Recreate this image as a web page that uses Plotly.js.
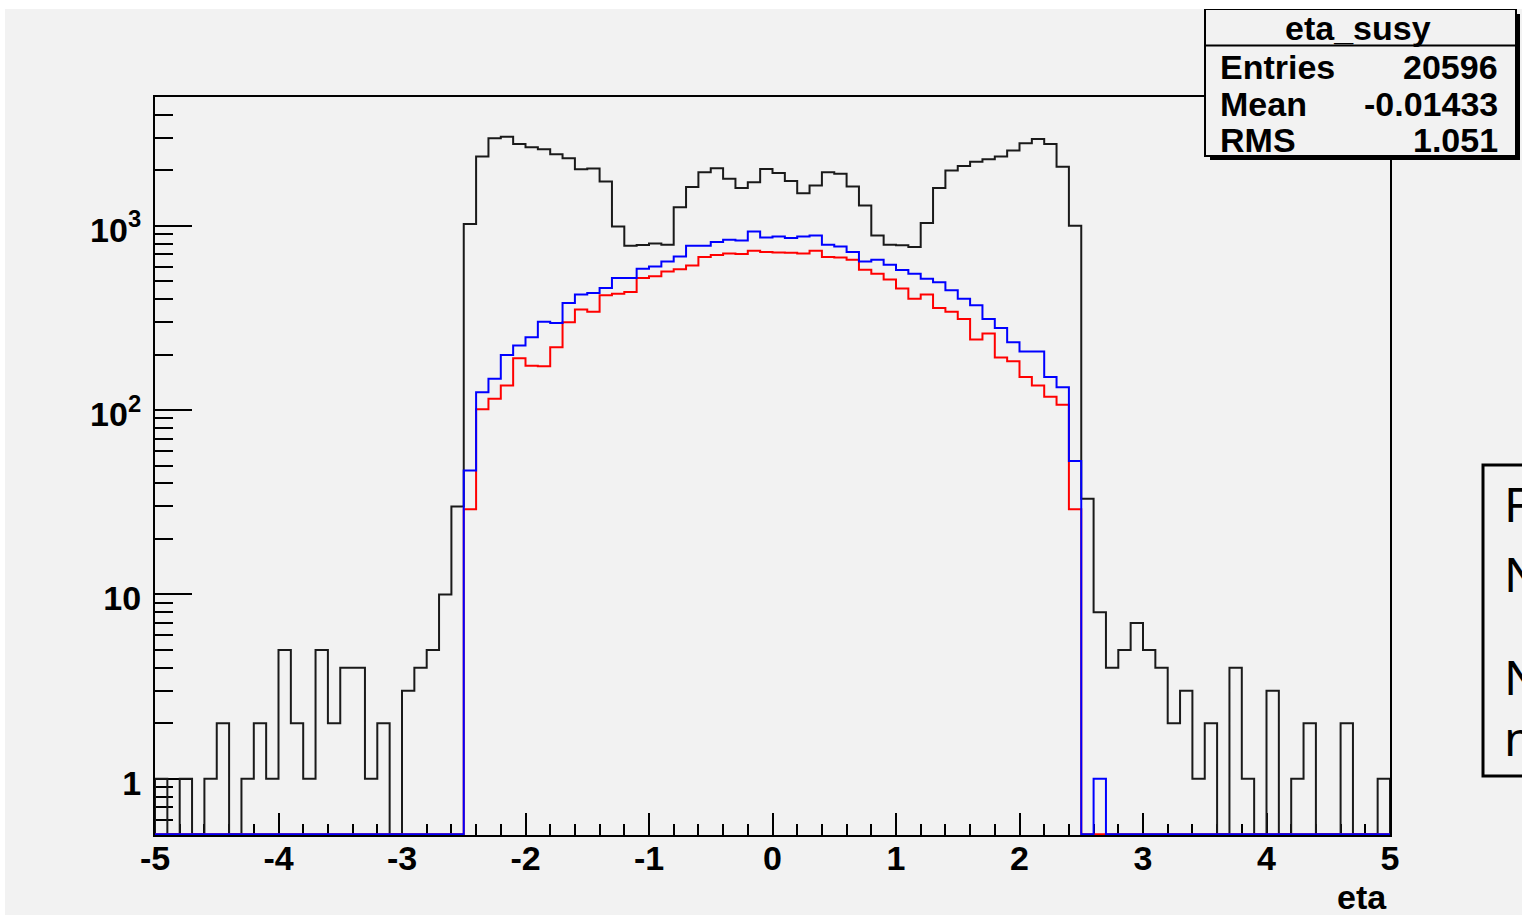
<!DOCTYPE html>
<html>
<head>
<meta charset="utf-8">
<script src="https://cdn.plot.ly/plotly-3.0.1.min.js"></script>
<style>
html,body{margin:0;padding:0;background:#ffffff;overflow:hidden;width:1522px;height:919px}
#chart{position:absolute;left:5px;top:9px;width:1517px;height:906px}
</style>
</head>
<body>
<div id="chart"></div>
<script>
// ---- histogram binning ----
const xMin = -5, xMax = 5, nBins = 100;

// ---- bin contents ----
const etaAll = [
  1, 0, 1, 0, 1, 2, 0, 1, 2, 1,
  5, 2, 1, 5, 2, 4, 4, 1, 2, 0,
  3, 4, 5, 10, 30, 1020, 2370, 2980, 3040, 2775,
  2660, 2600, 2440, 2320, 2025, 2040, 1735, 990, 778, 785,
  800, 788, 1260, 1620, 1950, 2050, 1795, 1600, 1720, 2030,
  1930, 1750, 1500, 1650, 1950, 1910, 1630, 1285, 885, 788,
  782, 766, 1033, 1600, 1990, 2110, 2225, 2290, 2370, 2555,
  2800, 2955, 2775, 2090, 1000, 33, 8, 4, 5, 7,
  5, 4, 2, 3, 1, 2, 0, 4, 1, 0,
  3, 0, 1, 2, 0, 0, 2, 0, 0, 1
];
const etaBlue = [
  0, 0, 0, 0, 0, 0, 0, 0, 0, 0,
  0, 0, 0, 0, 0, 0, 0, 0, 0, 0,
  0, 0, 0, 0, 0, 47, 125, 148, 199, 224,
  248, 301, 297, 381, 423, 432, 459, 520, 520, 584,
  601, 640, 680, 778, 778, 815, 839, 832, 931, 863,
  874, 857, 874, 885, 788, 772, 720, 640, 654, 614,
  575, 549, 515, 493, 446, 401, 370, 312, 279, 233,
  208, 208, 151, 133, 53, 0, 1, 0, 0, 0,
  0, 0, 0, 0, 0, 0, 0, 0, 0, 0,
  0, 0, 0, 0, 0, 0, 0, 0, 0, 0
];
const etaRed = [
  0, 0, 0, 0, 0, 0, 0, 0, 0, 0,
  0, 0, 0, 0, 0, 0, 0, 0, 0, 0,
  0, 0, 0, 0, 0, 29, 101, 115, 136, 191,
  174, 173, 219, 299, 351, 341, 419, 428, 437, 520,
  531, 565, 580, 609, 676, 693, 707, 702, 731, 720,
  716, 713, 707, 731, 676, 673, 654, 577, 549, 510,
  457, 402, 423, 358, 341, 312, 241, 260, 193, 184,
  151, 136, 118, 107, 29, 0, 0, 0, 0, 0,
  0, 0, 0, 0, 0, 0, 0, 0, 0, 0,
  0, 0, 0, 0, 0, 0, 0, 0, 0, 0
];

// ---- tick labels / text ----
const xTickVals = [-5, -4, -3, -2, -1, 0, 1, 2, 3, 4, 5];
const xTickText = ['-5', '-4', '-3', '-2', '-1', '0', '1', '2', '3', '4', '5'];
const yTickVals = [1, 10, 100, 1000];
const yTickText = ['1', '10', '10<sup>2</sup>', '10<sup>3</sup>'];
const yMinorVals = [0.6, 0.7, 0.8, 0.9, 2, 3, 4, 5, 6, 7, 8, 9,
  20, 30, 40, 50, 60, 70, 80, 90, 200, 300, 400, 500, 600, 700, 800, 900,
  2000, 3000, 4000];
const statsTitle = 'eta_susy';
const statLabels = ['Entries', 'Mean', 'RMS'];
const statValues = ['20596', '-0.01433', '1.051'];
const xTitle = 'eta';
const sideLetters = ['F', 'N', 'N', 'n'];

// ---- drawing ----
const yFloor = 0.5;
const yLogRange = [Math.log10(yFloor) - 0.004, 3.698];
const bw = (xMax - xMin) / nBins;
const show = v => (v > 0 ? v : yFloor);

function stepTrace(counts, color, width) {
  const xs = [xMin], ys = [yFloor];
  for (let i = 0; i < counts.length; i++) {
    xs.push(xMin + i * bw);
    ys.push(show(counts[i]));
  }
  xs.push(xMax); ys.push(show(counts[counts.length - 1]));
  xs.push(xMax); ys.push(yFloor);
  return {type: 'scatter', mode: 'lines', x: xs, y: ys,
    line: {shape: 'hv', color: color, width: width},
    hoverinfo: 'skip', showlegend: false};
}

// pixel helpers (page pixels -> paper coords); plot area 155..1390 x 97..835
const PX0 = 155, PX1 = 1390, PY0 = 97, PY1 = 835;
const px = a => (a - PX0) / (PX1 - PX0);
const py = a => (PY1 - a) / (PY1 - PY0);

const boldFont = {family: 'Liberation Sans, Arial, Helvetica, sans-serif', size: 34, color: '#000', weight: 'bold'};

const shapes = [
  // stats box shadow
  {type: 'rect', xref: 'paper', yref: 'paper', layer: 'above',
   x0: px(1210), x1: px(1520), y0: py(160), y1: py(14),
   fillcolor: '#000', line: {width: 0}},
  // stats box
  {type: 'rect', xref: 'paper', yref: 'paper', layer: 'above',
   x0: px(1205), x1: px(1516), y0: py(156), y1: py(9),
   fillcolor: '#f2f2f2', line: {color: '#000', width: 2}},
  {type: 'line', xref: 'paper', yref: 'paper', layer: 'above',
   x0: px(1205), x1: px(1516), y0: py(45.5), y1: py(45.5),
   line: {color: '#000', width: 2}},
  // partial text box at right edge
  {type: 'rect', xref: 'paper', yref: 'paper', layer: 'above',
   x0: px(1483), x1: px(1600), y0: py(776), y1: py(465),
   fillcolor: 'rgba(0,0,0,0)', line: {color: '#000', width: 3}}
];

const annotations = [
  {xref: 'paper', yref: 'paper', x: px(1358), y: py(28), text: statsTitle,
   xanchor: 'center', yanchor: 'middle', showarrow: false, font: boldFont}
];
const rowY = [67, 104, 140];
for (let i = 0; i < statLabels.length; i++) {
  annotations.push({xref: 'paper', yref: 'paper', x: px(1218), y: py(rowY[i]), text: statLabels[i],
    xanchor: 'left', yanchor: 'middle', showarrow: false, font: boldFont});
  annotations.push({xref: 'paper', yref: 'paper', x: px(1500), y: py(rowY[i]), text: statValues[i],
    xanchor: 'right', yanchor: 'middle', showarrow: false, font: boldFont});
}
annotations.push({xref: 'paper', yref: 'paper', x: px(1389), y: py(897), text: xTitle,
  xanchor: 'right', yanchor: 'middle', showarrow: false, font: boldFont});
const sideY = [504, 573, 676, 737];
for (let i = 0; i < sideLetters.length; i++) {
  annotations.push({xref: 'paper', yref: 'paper', x: px(1502), y: py(sideY[i]), text: sideLetters[i],
    xanchor: 'left', yanchor: 'middle', showarrow: false,
    font: {family: 'Noto Sans, Open Sans, sans-serif', size: 48, color: '#000'}});
}

const data = [
  stepTrace(etaAll, '#1a1a1a', 2),
  stepTrace(etaRed, '#ff0000', 2),
  stepTrace(etaBlue, '#0000ff', 2)
];

const layout = {
  width: 1517, height: 906,
  margin: {l: 150, r: 132, t: 88, b: 80, pad: 0},
  paper_bgcolor: '#f2f2f2', plot_bgcolor: '#f2f2f2',
  showlegend: false,
  xaxis: {
    range: [xMin, xMax], showline: true, linecolor: '#000', linewidth: 2, mirror: true,
    showgrid: false, zeroline: false, layer: 'below traces',
    tickmode: 'array', tickvals: xTickVals, ticktext: xTickText,
    ticks: 'inside', ticklen: 22, tickwidth: 2, tickcolor: '#000',
    tickfont: boldFont, ticklabelstandoff: -8,
    minor: {dtick: 0.2, tick0: 0, ticks: 'inside', ticklen: 11, tickwidth: 2, tickcolor: '#000', showgrid: false},
    fixedrange: true
  },
  yaxis: {
    type: 'log', range: yLogRange, showline: true, linecolor: '#000', linewidth: 2, mirror: true,
    showgrid: false, zeroline: false, layer: 'below traces',
    tickmode: 'array', tickvals: yTickVals, ticktext: yTickText,
    ticks: 'inside', ticklen: 37, tickwidth: 2, tickcolor: '#000',
    tickfont: boldFont, ticklabelstandoff: 5, ticklabelshift: 4,
    minor: {tickmode: 'array', tickvals: yMinorVals, ticks: 'inside', ticklen: 18, tickwidth: 2, tickcolor: '#000', showgrid: false},
    fixedrange: true
  },
  shapes: shapes,
  annotations: annotations
};

Plotly.newPlot('chart', data, layout, {displayModeBar: false, staticPlot: true});
</script>
</body>
</html>
